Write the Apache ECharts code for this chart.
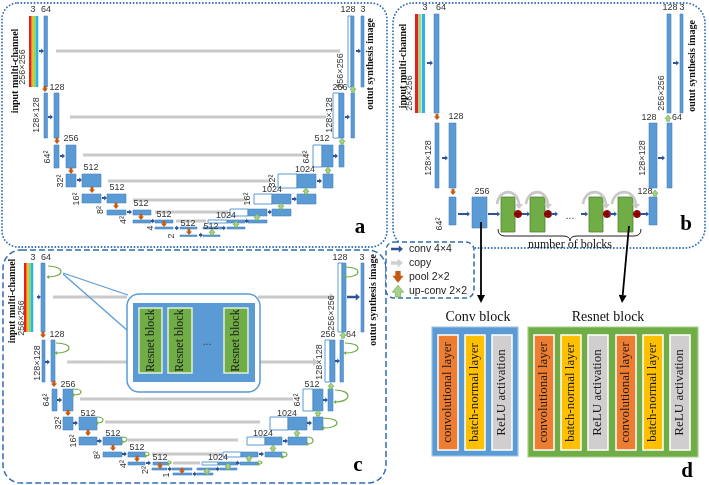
<!DOCTYPE html>
<html>
<head>
<meta charset="utf-8">
<script src="https://cdn.jsdelivr.net/npm/echarts@6/dist/echarts.min.js"></script>
<style>
  html, body { margin: 0; background: #fff; }
  #main { width: 709px; height: 485px; }
</style>
</head>
<body>
<div id="main"></div>
<script>
// diagram units = one pixel of the original figure (x right, y down)

// panel frames: x, y, w, h, corner radius
const framesDotted = [[2, 3, 385, 244, 16], [393, 3, 312, 245, 20]];
const framesDashed = [[3, 250, 383, 233, 18]];
const legendFrame = [[386, 242, 88, 56, 8]];

// input channel stacks: x, y, height, stripe count
const inputStacks = [[29, 16, 71, 4], [415, 14, 99, 3], [24, 263, 69, 4]];

// ---------- panel a ----------
const featA = [
  [44, 16, 3.5, 71],
  [44, 93, 3.5, 45], [54, 93, 5, 45],
  [54, 145, 5, 23], [66, 145, 10, 23],
  [66, 174, 10, 13], [82, 174, 19, 13],
  [82, 194, 19, 9], [107, 194, 19, 9],
  [107, 210, 19, 5], [133, 210, 18, 5],
  [133, 220, 18, 3], [155, 220, 18, 3],
  [155, 227, 18, 2], [180, 227, 17, 2],
  [180, 235, 17, 1.5], [203, 235, 17, 1.5],
  [203, 227, 19, 2], [227, 227, 18, 2],
  [227, 220, 18, 3], [248, 220, 19, 3],
  [248, 209, 19, 7], [272, 209, 19, 7],
  [272, 194, 19, 10], [297, 194, 19, 10],
  [297, 174, 19, 14], [323, 174, 10, 14],
  [322, 145, 11, 22], [339, 145, 5, 22],
  [339, 93, 5, 45], [351, 93, 3.5, 45],
  [351, 16, 3, 71], [361, 16, 3, 71]
];
const copyA = [[348, 16, 3, 71], [333, 93, 6, 45], [313, 145, 9, 22], [278, 174, 19, 14],
  [254, 194, 18, 10], [230, 209, 18, 7], [208, 220, 19, 3]];
const copyLinesA = [[56, 340, 51], [70, 326, 117], [83, 306, 155], [108, 270, 181],
  [133, 247, 200], [155, 228, 212], [176, 206, 221]];
const convA = [[39, 51, 5], [48, 117, 5], [60, 156, 5], [77, 180, 5], [102, 198, 5], [127, 212, 5],
  [151, 221, 4], [175, 228, 4], [199, 235, 4], [222, 228, 4], [245, 221, 4], [268, 212, 4],
  [292, 199, 5], [317, 181, 5], [333, 156, 5], [345, 117, 5], [356, 51, 5]];
const poolA = [[45, 89], [57, 141], [71, 171], [92, 190], [116, 206], [141, 217], [164, 224], [189, 232]];
const upA = [[353, 89], [342, 141], [328, 170], [306, 191], [281, 206], [257, 217], [236, 224], [212, 232]];
const numA = [[33, 10, '3'], [46, 10, '64'], [57, 88, '128'], [71, 139, '256'], [91, 168, '512'],
  [117, 188, '512'], [141, 204, '512'], [164, 215, '512'], [188, 224, '512'], [211, 227, '512'],
  [348, 10, '128'], [363, 10, '3'], [340, 88, '256'], [322, 139, '512'], [305, 170, '1024'],
  [272, 190, '1024'], [226, 216, '1024']];
const sizeA = [[23, 67, '256×256'], [37, 115, '128×128'], [48, 157, '64²'], [61, 181, '32²'],
  [77, 199, '16²'], [101, 210, '8²'], [124, 220, '4²'], [151, 228, '4'], [172, 236, '2'],
  [341, 71, '256×256'], [330, 115, '128×128'], [307, 157, '64²'], [273, 181, '32²'], [248, 199, '16²']];
const ioA = [[15, 71, 'input multi-channel'], [370, 64, 'outut synthesis image']];

// ---------- panel b ----------
const featB = [[434, 14, 5, 99], [435, 123, 4, 65], [449, 123, 7, 65], [449, 197, 7, 28],
  [472, 197, 15, 31], [649, 197, 8, 28], [649, 123, 8, 65], [667, 123, 5, 65],
  [667, 14, 4, 99], [680, 14, 3, 99]];
const resB = [[501, 197, 14, 35], [530, 197, 15, 35], [589, 197, 14, 35], [618, 197, 15, 35]];
const convB = [[427, 63, 6], [442, 158, 6], [458, 214, 12], [488, 214, 12], [522, 214, 8],
  [551, 214, 7], [581, 214, 7], [609, 214, 8], [640, 214, 9], [658, 158, 7], [673, 63, 6]];
const poolB = [[437, 117], [453, 192]];
const upB = [[655, 193], [668, 118]];
const sumB = [[518, 214], [548, 214], [607, 214], [637, 214]];
const skipB = [[497, 204, 519, 208], [526, 204, 548, 208], [583, 204, 606, 208], [612, 204, 636, 208]];
const numB = [[425, 8, '3'], [441, 8, '64'], [456, 117, '128'], [482, 192, '256'],
  [645, 192, '128'], [649, 118, '128'], [677, 118, '64'], [670, 8, '128'], [682, 8, '3']];
const sizeB = [[410, 93, '256×256'], [429, 158, '128×128'], [440, 224, '64²'],
  [643, 158, '128×128'], [662, 93, '256×256']];
const ioB = [[403, 66, 'input multi-channel'], [692, 66, 'outut synthesis image']];

// ---------- panel c ----------
const featC = [
  [41, 263, 4, 69],
  [42, 340, 3, 42], [51, 340, 4, 42],
  [52, 389, 5, 22], [63, 389, 10, 22],
  [63, 417, 10, 13], [79, 417, 18, 13],
  [79, 437, 18, 8], [103, 437, 19, 8],
  [103, 452, 19, 5], [128, 452, 17, 5],
  [128, 462, 17, 3], [153, 462, 15, 3],
  [152, 468, 15, 2], [172, 468, 20, 2],
  [173, 473, 19, 2], [197, 473, 16, 2],
  [197, 468, 20, 2], [220, 468, 17, 2],
  [218, 462, 19, 3], [240, 462, 18, 3],
  [241, 452, 17, 5], [265, 452, 17, 5],
  [265, 437, 17, 8], [288, 437, 19, 8],
  [288, 417, 19, 13], [313, 417, 10, 13],
  [313, 389, 10, 22], [328, 389, 5, 22],
  [330, 340, 5, 42], [340, 340, 3.5, 42],
  [342, 263, 4, 69], [361, 263, 3, 69]
];
const copyC = [[338, 263, 4, 69], [325, 340, 5, 42], [303, 389, 10, 22], [270, 417, 18, 13],
  [247, 437, 18, 8], [223, 452, 18, 5], [202, 462, 16, 3]];
const copyLinesC = [[53, 127, 297], [258, 330, 297, 1], [67, 127, 362], [260, 313, 362, 1],
  [80, 293, 399], [105, 260, 422], [128, 238, 440], [152, 222, 454], [173, 200, 463]];
const convC = [[37, 297, 4], [45, 362, 5], [57, 400, 5], [73, 423, 5], [97, 441, 5], [122, 454, 5],
  [146, 463, 5], [168, 469, 4], [193, 474, 4], [216, 469, 4], [236, 463, 4], [259, 454, 5],
  [283, 441, 5], [307, 423, 5], [323, 400, 5], [335, 361, 5], [347, 297, 13, 1.5]];
const poolC = [[43, 335], [54, 384], [68, 413], [88, 433], [113, 448], [137, 459], [160, 466], [182, 471]];
const upC = [[343, 335], [331, 386], [318, 413], [297, 433], [273, 448], [249, 458], [228, 466], [207, 471]];
const loopsC = [[48, 266, 13, 11], [56, 343, 13, 10], [73, 389, 8, 6], [97, 417, 6, 6], [122, 437, 5, 5],
  [145, 452, 4, 4], [168, 461, 3, 3], [345, 267, 13, 10], [345, 343, 13, 10], [335, 390, 13, 12],
  [323, 418, 14, 10], [307, 437, 6, 7], [282, 452, 5, 5], [258, 461, 4, 3]];
const numC = [[33, 258, '3'], [46, 258, '64'], [57, 335, '128'], [68, 385, '256'], [88, 414, '512'],
  [113, 434, '512'], [137, 448, '512'], [160, 458, '512'], [340, 258, '128'], [362, 258, '3'],
  [328, 335, '256'], [351, 335, '64'], [312, 385, '512'], [287, 414, '1024'], [263, 434, '1024'],
  [218, 458, '1024']];
const sizeC = [[22, 318, '256×256'], [38, 363, '128×128'], [47, 400, '64²'], [59, 423, '32²'],
  [74, 441, '16²'], [98, 455, '8²'], [124, 464, '4²'], [146, 470, '2²'], [167, 475, '1'],
  [332, 313, '256×256'], [320, 362, '128×128'], [298, 400, '64²']];
const ioC = [[12, 301, 'input multi-channel'], [373, 300, 'outut synthesis image']];
// zoom-in callout of the bottleneck
const calloutFrame = [[127, 294, 133, 98, 12]];
const calloutInner = [[133, 303, 122, 79]];
const calloutRes = [[139, 308, 23, 65], [168, 308, 24, 65], [224, 308, 24, 65]];
const calloutLines = [[63, 273, 128, 295], [63, 274, 128, 331]];

// ---------- legend / panel d ----------
const legendMarks = [[391, 249, 'conv'], [391, 263, 'copy'], [398, 277, 'pool'], [398, 291, 'up']];
const legendText = [[409, 249, 'conv 4×4'], [409, 263, 'copy'], [409, 277, 'pool 2×2'], [409, 291, 'up-conv 2×2']];
const bigArrows = [[481, 222, 481, 303], [629, 226, 622, 303]];
const blockFrames = [[432, 327, 86, 129, 0], [528, 327, 170, 130, 1]];
const layerNames = ['convolutional layer', 'batch-normal layer', 'ReLU activation'];
const layerBars = [[438, 0], [465, 1], [492, 2], [534, 0], [561, 1], [588, 2], [616, 0], [643, 1], [670, 2]];
const titles = [[478, 317, 'Conv block'], [608, 317, 'Resnet block'], [570, 245, 'number of bolcks']];
const letters = [[360, 228, 'a'], [686, 225, 'b'], [358, 466, 'c'], [687, 472, 'd']];
const dots = [[570, 216], [207, 342]];

// ---------- drawing ----------
const BLUE = '#5b9bd5';
const BLUE_EDGE = '#4a84c4';
const FRAME = '#2e6db4';
const GREEN = '#70ad47';
const GRAY = '#c9c9c9';
const LAYER_FILL = ['#ed7d31', '#ffc000', '#d0cece'];
const STRIPES = {
  4: [['#e62020', 2.7, 0], ['#f5b800', 1.6, 0], ['#92d050', 2.4, 0], ['#2ab5e6', 2.6, 0]],
  3: [['#e62020', 3, 0], ['#a9d18e', 3.5, 0], ['#2ab5e6', 3, 0.5]]
};
const F_NUM = '9px "Liberation Sans", Arial, sans-serif';
const F_BOLD = 'bold 10px "Liberation Serif", serif';

const series = [];
function add(data, draw) {
  series.push({
    type: 'custom',
    coordinateSystem: 'cartesian2d',
    silent: true,
    animation: false,
    data: data.map(d => [d[0], d[1]]),
    renderItem: (params, api) => draw(data[params.dataIndex], api)
  });
}
function rect(api, x, y, w, h, style, r) {
  const p = api.coord([x, y]), q = api.coord([x + w, y + h]);
  return { type: 'rect', shape: { x: p[0], y: p[1], width: q[0] - p[0], height: q[1] - p[1], r: r || 0 }, style };
}
function poly(api, pts, style) {
  return { type: 'polygon', shape: { points: pts.map(p => api.coord(p)) }, style };
}
function line(api, x1, y1, x2, y2, style) {
  const a = api.coord([x1, y1]), b = api.coord([x2, y2]);
  return { type: 'line', shape: { x1: a[0], y1: a[1], x2: b[0], y2: b[1] }, style };
}
function arrowRight(api, x, y, len, s, fill) {
  const hw = 2.4 * s, sw = 0.9 * s, hl = 2.8 * s;
  return poly(api, [[x, y - sw], [x + len - hl, y - sw], [x + len - hl, y - hw], [x + len, y],
    [x + len - hl, y + hw], [x + len - hl, y + sw], [x, y + sw]], { fill });
}
function blockArrow(api, x, y, s, dir, style) {
  const pts = [[-1.4, -3.2], [1.4, -3.2], [1.4, -0.6], [3, -0.6], [0, 3], [-3, -0.6], [-1.4, -0.6]];
  return poly(api, pts.map(p => [x + p[0] * s, y + p[1] * s * dir]), style);
}
const poolStyle = { fill: '#c55a11' };
const upStyle = { fill: '#a9d18e', stroke: GREEN, lineWidth: 0.7 };
function texts(data, font, rotated, align, fill) {
  add(data, (d, api) => {
    const p = api.coord([d[0], d[1]]);
    return {
      type: 'text', x: p[0], y: p[1], rotation: rotated ? Math.PI / 2 : 0,
      style: { text: d[2], font, fill: fill || '#333', align: align || 'center', verticalAlign: 'middle' }
    };
  });
}

// frames
add(framesDotted, (d, api) => rect(api, d[0], d[1], d[2], d[3],
  { fill: 'none', stroke: FRAME, lineWidth: 1.8, lineDash: [0.1, 3.2], lineCap: 'round' }, d[4]));
add(framesDashed, (d, api) => rect(api, d[0], d[1], d[2], d[3],
  { fill: 'none', stroke: FRAME, lineWidth: 1.5, lineDash: [6, 3] }, d[4]));

// copy (skip) connections
add(copyLinesA.concat(copyLinesC), (d, api) => {
  const kids = [rect(api, d[0], d[2] - 1.5, d[1] - d[0], 3, { fill: GRAY })];
  if (d[3]) kids.push(poly(api, [[d[1], d[2] - 4], [d[1] + 5, d[2]], [d[1], d[2] + 4]], { fill: GRAY }));
  return { type: 'group', children: kids };
});

// input images
add(inputStacks, (d, api) => {
  let x = d[0];
  const kids = STRIPES[d[3]].map(s => {
    x += s[2];
    const r = rect(api, x, d[1], s[1], d[2], { fill: s[0] });
    x += s[1];
    return r;
  });
  return { type: 'group', children: kids };
});

// feature maps
add(copyA.concat(copyC), (d, api) => rect(api, d[0], d[1], d[2], d[3], { fill: '#fff', stroke: BLUE, lineWidth: 1 }));
add(featA.concat(featB, featC), (d, api) => rect(api, d[0], d[1], d[2], d[3], { fill: BLUE, stroke: BLUE_EDGE, lineWidth: 0.6 }));
add(resB, (d, api) => rect(api, d[0], d[1], d[2], d[3], { fill: GREEN, stroke: '#548235', lineWidth: 0.8 }));

// callout in panel c
add(calloutLines, (d, api) => line(api, d[0], d[1], d[2], d[3], { stroke: BLUE, lineWidth: 1.3 }));
add(calloutFrame, (d, api) => rect(api, d[0], d[1], d[2], d[3], { fill: '#fff', stroke: BLUE, lineWidth: 1.5 }, d[4]));
add(calloutInner, (d, api) => rect(api, d[0], d[1], d[2], d[3], { fill: BLUE }));
add(calloutRes, (d, api) => rect(api, d[0], d[1], d[2], d[3], { fill: GREEN, stroke: '#e2f0d9', lineWidth: 1.5 }));
add(calloutRes, (d, api) => {
  const p = api.coord([d[0] + d[2] / 2, d[1] + d[3] / 2]);
  return { type: 'text', x: p[0], y: p[1], rotation: Math.PI / 2,
    style: { text: 'Resnet block', font: '12px "Liberation Serif", serif', fill: '#1a1a1a', align: 'center', verticalAlign: 'middle' } };
});

// residual loops (panel c)
add(loopsC, (d, api) => {
  const x = d[0], y = d[1], w = d[2], h = d[3];
  const a = api.coord([x, y]), b = api.coord([x, y + h]);
  const c1 = api.coord([x + w * 1.33, y]), c2 = api.coord([x + w * 1.33, y + h]);
  return { type: 'group', children: [
    { type: 'bezierCurve', shape: { x1: a[0], y1: a[1], x2: b[0], y2: b[1], cpx1: c1[0], cpy1: c1[1], cpx2: c2[0], cpy2: c2[1] },
      style: { fill: 'none', stroke: GREEN, lineWidth: 1.2 } },
    poly(api, [[x + 1.2, y + h - 2], [x - 1.6, y + h], [x + 1.2, y + h + 2]], { fill: GREEN })
  ] };
});

// skip arcs + sums (panel b)
add(skipB, (d, api) => {
  const top = Math.min(d[1], d[3]) - 16;
  const a = api.coord([d[0], d[1]]), b = api.coord([d[2], d[3] - 3]);
  const c1 = api.coord([d[0] + 2, top]), c2 = api.coord([d[2] - 1, top]);
  return { type: 'group', children: [
    { type: 'bezierCurve', shape: { x1: a[0], y1: a[1], x2: b[0], y2: b[1], cpx1: c1[0], cpy1: c1[1], cpx2: c2[0], cpy2: c2[1] },
      style: { fill: 'none', stroke: '#c8c8c8', lineWidth: 2.6 } },
    poly(api, [[d[2] - 4, d[3] - 4], [d[2] + 4, d[3] - 4], [d[2], d[3] + 1]], { fill: '#c8c8c8' })
  ] };
});
add(sumB, (d, api) => {
  const c = api.coord([d[0], d[1]]);
  return { type: 'group', children: [
    { type: 'circle', shape: { cx: c[0], cy: c[1], r: 3.6 }, style: { fill: '#c00000', stroke: '#6e0000', lineWidth: 0.8 } },
    line(api, d[0] - 3.3, d[1], d[0] + 3.3, d[1], { stroke: '#3a0000', lineWidth: 0.8 }),
    line(api, d[0], d[1] - 3.3, d[0], d[1] + 3.3, { stroke: '#3a0000', lineWidth: 0.8 })
  ] };
});

// conv / pool / up-conv markers
add(convA.concat(convB, convC), (d, api) => arrowRight(api, d[0], d[1], d[2], d[3] || 1, '#2f5597'));
add(poolA.concat(poolB, poolC), (d, api) => blockArrow(api, d[0], d[1], 1, 1, poolStyle));
add(upA.concat(upB, upC), (d, api) => blockArrow(api, d[0], d[1], 1, -1, upStyle));

// brace under the resnet blocks
add([[498, 230]], (d, api) => {
  const c = (x, y) => api.coord([x, y]).join(' ');
  const path = 'M' + c(498, 229) + ' Q' + c(498, 236) + ' ' + c(505, 236) + ' L' + c(563, 236) +
    ' Q' + c(570, 236) + ' ' + c(570, 241) + ' Q' + c(570, 236) + ' ' + c(577, 236) + ' L' + c(634, 236) +
    ' Q' + c(641, 236) + ' ' + c(641, 229);
  return { type: 'path', shape: { pathData: path }, style: { fill: 'none', stroke: '#222', lineWidth: 1 } };
});

// arrows down to panel d
add(bigArrows, (d, api) => {
  const ang = Math.atan2(d[3] - d[1], d[2] - d[0]);
  const hl = 8, hw = 4;
  const bx = d[2] - hl * Math.cos(ang), by = d[3] - hl * Math.sin(ang);
  const nx = -Math.sin(ang) * hw, ny = Math.cos(ang) * hw;
  return { type: 'group', children: [
    line(api, d[0], d[1], bx, by, { stroke: '#000', lineWidth: 1.8 }),
    poly(api, [[d[2], d[3]], [bx + nx, by + ny], [bx - nx, by - ny]], { fill: '#000' })
  ] };
});

// legend
add(legendFrame, (d, api) => rect(api, d[0], d[1], d[2], d[3],
  { fill: '#fff', stroke: FRAME, lineWidth: 1.5, lineDash: [5, 3] }, d[4]));
add(legendMarks, (d, api) => {
  if (d[2] === 'conv') return arrowRight(api, d[0], d[1], 12, 1.5, '#2f5597');
  if (d[2] === 'copy') return arrowRight(api, d[0], d[1], 12, 1.9, '#d0d0d0');
  if (d[2] === 'pool') return blockArrow(api, d[0], d[1], 1.9, 1, poolStyle);
  return blockArrow(api, d[0], d[1], 1.9, -1, upStyle);
});
texts(legendText, '10.5px "Liberation Sans", Arial, sans-serif', false, 'left', '#222');

// panel d
add(blockFrames, (d, api) => rect(api, d[0], d[1], d[2], d[3],
  { fill: d[4] ? GREEN : BLUE, stroke: d[4] ? '#a9d18e' : '#9dc3e6', lineWidth: 1.2 }));
add(layerBars, (d, api) => rect(api, d[0], 335, 20, 115, { fill: LAYER_FILL[d[1]], stroke: '#fff', lineWidth: 1.5 }));
add(layerBars, (d, api) => {
  const p = api.coord([d[0] + 10, 392.5]);
  return { type: 'text', x: p[0], y: p[1], rotation: Math.PI / 2,
    style: { text: layerNames[d[1]], font: '13px "Liberation Serif", serif', fill: '#1a1a1a', align: 'center', verticalAlign: 'middle' } };
});

// labels
texts(numA.concat(numB, numC), F_NUM, false);
texts(sizeA.concat(sizeB, sizeC), F_NUM, true);
texts(ioA.concat(ioB, ioC), F_BOLD, true, 'center', '#111');
texts(titles.slice(0, 2), '14px "Liberation Serif", serif', false, 'center', '#111');
texts(titles.slice(2), '12px "Liberation Serif", serif', false, 'center', '#111');
texts(letters, 'bold 21px "Liberation Serif", serif', false, 'center', '#000');
texts(dots.map(d => [d[0], d[1], '...']), '10px "Liberation Sans", sans-serif', false, 'center', '#333');

const chart = echarts.init(document.getElementById('main'), null, { renderer: 'canvas' });
chart.setOption({
  animation: false,
  grid: { left: 0, right: 0, top: 0, bottom: 0 },
  xAxis: { type: 'value', min: 0, max: 709, show: false },
  yAxis: { type: 'value', min: 0, max: 485, inverse: true, show: false },
  series
});
</script>
</body>
</html>
